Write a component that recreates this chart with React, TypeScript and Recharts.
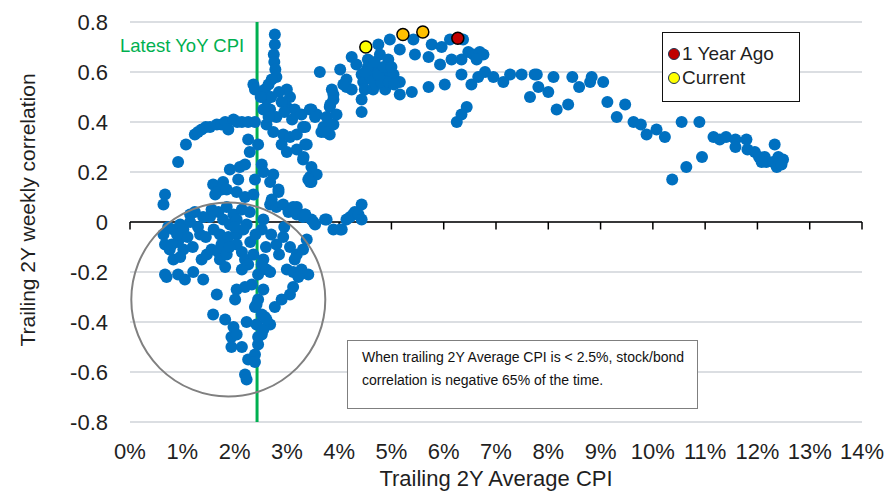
import {CartesianGrid, ReferenceDot, ReferenceLine, Scatter, ScatterChart, XAxis, YAxis} from 'recharts';

type Pt = [number, number];

// trailing 2Y avg CPI (%) vs trailing 2Y weekly stock/bond correlation
const lowCluster: Pt[] = [
  [0.67, 0.11], [0.64, 0.07], [1.59, 0.15], [1.75, 0.13], [1.63, 0.11], [2.04, 0.12], [2.2, 0.1], [2.36, 0.11],
  [2.68, 0.16], [2.84, 0.13], [3.44, 0.16], [1.24, 0.04], [1.15, 0.03], [1.56, 0.05], [1.69, 0.04], [1.85, 0.06],
  [1.98, 0.03], [2.14, 0.05], [2.29, 0.04], [1.53, 0.02], [1.78, 0.01], [1.91, -0.01], [2.04, 0.01], [2.23, -0.01],
  [2.52, -0.03], [2.55, 0.01], [2.68, 0.07], [2.8, 0.06], [2.93, 0.07], [3.03, 0.04], [3.19, 0.06], [3.25, 0.03],
  [3.35, 0.03], [3.47, 0.01], [3.54, -0.01], [3.73, 0.01], [0.73, -0.02], [0.64, -0.05], [0.83, -0.03], [0.96, -0.01],
  [1.02, -0.03], [0.67, -0.09], [0.76, -0.11], [0.92, -0.08], [1.02, -0.11], [0.83, -0.15], [0.96, -0.14], [1.34, -0.05],
  [1.37, -0.15], [1.47, -0.13], [1.56, -0.11], [1.69, -0.12], [1.72, -0.15], [1.85, -0.13], [1.82, -0.18], [1.72, -0.05],
  [1.88, -0.06], [2.04, -0.05], [2.17, -0.03], [2.04, -0.09], [2.14, -0.12], [2.2, -0.15], [2.26, -0.17], [2.14, -0.19],
  [2.36, -0.13], [2.55, -0.15], [2.52, -0.17], [2.61, -0.19], [2.68, -0.2], [2.8, -0.09], [2.93, -0.06], [3.06, -0.1],
  [3.19, -0.13], [3.31, -0.11], [3.38, -0.07], [3.15, -0.15], [3.0, -0.19], [3.12, -0.2], [3.28, -0.19], [3.41, -0.21],
  [3.22, -0.22], [0.67, -0.21], [0.7, -0.22], [0.92, -0.21], [1.05, -0.23], [1.21, -0.2], [1.4, -0.23], [2.04, -0.27],
  [2.2, -0.26], [2.33, -0.25], [1.66, -0.29], [2.01, -0.31], [3.12, -0.26], [3.06, -0.29], [2.9, -0.31], [2.77, -0.34],
  [2.45, -0.31], [2.39, -0.34], [1.59, -0.37], [1.82, -0.39], [1.98, -0.42], [2.23, -0.4], [2.42, -0.41], [2.58, -0.38],
  [2.68, -0.41], [1.94, -0.46], [2.04, -0.45], [2.52, -0.45], [2.45, -0.49], [1.94, -0.5], [2.14, -0.5], [2.26, -0.55],
  [2.39, -0.53], [2.2, -0.61], [2.23, -0.63], [2.55, -0.43], [2.45, -0.21], [2.55, -0.27], [2.42, -0.33], [2.52, -0.37],
  [2.61, -0.39], [2.45, -0.46], [2.39, -0.56], [1.1, -0.06], [1.2, -0.1], [1.3, -0.02], [1.45, -0.06], [1.6, -0.03],
  [1.75, -0.09], [1.9, -0.1], [2.0, -0.02], [2.3, -0.08], [2.4, -0.05], [0.9, -0.05], [0.8, -0.09], [1.15, 0.0],
  [1.4, 0.02], [2.6, -0.1], [2.7, -0.05], [2.85, -0.13], [2.95, -0.02],
];

const upperArc: Pt[] = [
  [0.92, 0.24], [1.07, 0.31], [1.24, 0.35], [1.3, 0.36], [1.37, 0.37], [1.45, 0.38], [1.53, 0.38], [1.66, 0.39],
  [1.75, 0.39], [1.82, 0.4], [1.98, 0.41], [2.05, 0.4], [2.14, 0.4], [2.26, 0.4], [2.39, 0.4], [1.88, 0.37],
  [2.26, 0.33], [2.29, 0.28], [2.45, 0.31], [1.91, 0.21], [2.1, 0.22], [2.2, 0.23], [2.07, 0.17], [1.78, 0.16],
  [1.66, 0.12], [1.85, 0.13], [2.39, 0.17], [2.52, 0.23], [2.55, 0.2], [2.74, 0.19], [2.84, 0.12], [2.71, 0.09],
  [3.12, 0.06], [3.19, 0.03], [3.31, 0.02],
];

const column: Pt[] = [
  [2.77, 0.75], [2.77, 0.71], [2.75, 0.67], [2.76, 0.64], [2.78, 0.61], [2.8, 0.58], [2.71, 0.57], [2.36, 0.55],
  [2.39, 0.53], [2.58, 0.53], [2.61, 0.49], [2.68, 0.45], [2.61, 0.39], [2.8, 0.42], [3.0, 0.53], [3.06, 0.5],
  [3.0, 0.46], [3.15, 0.45], [3.28, 0.43], [2.74, 0.36], [2.93, 0.35], [3.06, 0.34], [3.19, 0.35], [3.31, 0.38],
  [2.9, 0.31], [3.0, 0.28], [3.19, 0.29], [3.35, 0.31], [3.31, 0.25], [3.47, 0.22], [3.44, 0.18], [3.57, 0.19],
  [3.47, 0.16], [2.65, 0.55], [2.85, 0.52], [2.9, 0.48], [2.7, 0.5], [2.95, 0.44], [3.1, 0.41], [2.55, 0.45],
  [2.5, 0.5], [2.65, 0.42],
];

const rise: Pt[] = [
  [3.47, 0.45], [3.57, 0.43], [3.76, 0.42], [3.89, 0.49], [3.82, 0.46], [3.95, 0.43], [3.7, 0.38], [3.82, 0.35],
  [3.66, 0.36], [3.89, 0.39], [3.63, 0.6], [4.02, 0.61], [4.24, 0.66], [4.33, 0.63], [4.14, 0.57], [4.24, 0.53],
  [4.14, 0.54], [3.89, 0.51], [3.83, 0.47], [3.86, 0.39], [3.73, 0.36], [3.44, 0.45], [3.54, 0.42], [3.35, 0.38],
  [3.38, 0.31], [3.32, 0.26], [3.41, 0.17], [4.08, 0.55], [3.86, 0.53],
];

const peak: Pt[] = [
  [4.43, 0.59], [4.46, 0.56], [4.59, 0.6], [4.72, 0.61], [4.49, 0.53], [4.65, 0.53], [4.85, 0.58], [4.91, 0.61],
  [5.04, 0.59], [4.88, 0.53], [5.16, 0.56], [5.16, 0.51], [5.39, 0.52], [5.71, 0.54], [6.02, 0.55], [4.43, 0.49],
  [4.43, 0.44], [4.75, 0.71], [4.97, 0.73], [4.78, 0.67], [4.94, 0.65], [5.16, 0.69], [5.42, 0.73], [5.45, 0.67],
  [5.77, 0.71], [5.71, 0.66], [5.96, 0.7], [5.93, 0.63], [6.15, 0.65], [6.12, 0.73], [6.37, 0.73], [6.34, 0.65],
  [6.47, 0.68], [6.57, 0.67], [6.69, 0.68], [6.76, 0.67], [6.63, 0.65], [6.34, 0.59], [6.53, 0.55], [6.66, 0.58],
  [6.79, 0.6], [6.95, 0.58], [7.14, 0.56], [7.27, 0.59], [6.25, 0.4], [6.34, 0.43], [6.44, 0.46], [4.55, 0.65],
  [4.62, 0.57], [4.7, 0.55], [4.8, 0.56], [4.55, 0.62], [4.68, 0.64], [4.6, 0.58], [4.75, 0.59], [4.95, 0.56],
  [5.05, 0.55], [4.5, 0.6], [4.85, 0.62], [5.0, 0.62],
];

const tail: Pt[] = [
  [7.49, 0.59], [7.74, 0.59], [7.78, 0.59], [7.81, 0.54], [7.65, 0.5], [8.0, 0.52], [8.1, 0.58], [8.16, 0.45],
  [8.38, 0.47], [8.46, 0.58], [8.59, 0.54], [8.8, 0.56], [8.83, 0.58], [9.05, 0.56], [9.13, 0.48], [9.31, 0.42],
  [9.47, 0.47], [9.63, 0.4], [9.77, 0.39], [9.88, 0.35], [10.07, 0.37], [10.23, 0.34], [10.37, 0.17], [10.55, 0.4],
  [10.64, 0.22], [10.89, 0.4], [10.94, 0.26], [11.16, 0.34], [11.28, 0.33], [11.4, 0.34], [11.58, 0.33], [11.58, 0.3],
  [11.79, 0.33], [11.81, 0.29], [11.95, 0.28], [12.03, 0.26], [12.14, 0.26], [12.33, 0.31], [12.17, 0.24], [12.3, 0.24],
  [12.4, 0.26], [12.49, 0.25], [12.37, 0.22], [12.46, 0.23], [12.08, 0.24],
];

const zeroBand: Pt[] = [
  [3.35, 0.03], [3.51, 0.0], [3.76, 0.01], [3.89, -0.03], [4.02, -0.03], [4.05, -0.03], [4.14, 0.01], [4.21, 0.02],
  [4.27, 0.03], [4.3, 0.04], [4.37, 0.03], [4.43, 0.07], [4.43, 0.01],
];

const currentPt: Pt[] = [[4.51, 0.7]];
const recentPts: Pt[] = [[5.22, 0.75], [5.6, 0.76]];
const yearAgoPt: Pt[] = [[6.27, 0.735]];

const xTicks = [0, 1, 2, 3, 4, 5, 6, 7, 8, 9, 10, 11, 12, 13, 14];
const yTicks = [-0.8, -0.6, -0.4, -0.2, 0, 0.2, 0.4, 0.6, 0.8];
const latestYoyCpi = 2.43;
const lowInflationZone = {cpi: 1.88, corr: -0.31};

const toRows = (pts: Pt[]) => pts.map(([cpi, corr]) => ({cpi, corr}));
const blueRows = toRows([...lowCluster, ...upperArc, ...column, ...rise, ...peak, ...tail, ...zeroBand]);

const FONT = '"Liberation Sans", Arial, sans-serif';
const BLUE = '#0070C0';

const dot = (fill: string, stroke?: string) => (p: any) => (
  <circle cx={p.cx} cy={p.cy} r={6} fill={fill} stroke={stroke ?? 'none'} strokeWidth={stroke ? 1.5 : 0} />
);

export default function App() {
  const tick = {fill: '#1f1f1f', fontSize: 22, fontFamily: FONT};
  return (
    <div style={{position: 'relative', width: 888, height: 491, fontFamily: FONT, background: '#fff'}}>
      <style>{'body{margin:0}'}</style>
      <ScatterChart width={888} height={491} margin={{top: 22, right: 26, bottom: 0, left: 0}}>
        <CartesianGrid vertical={false} stroke="#cfd3d9" strokeWidth={1.5} />
        <XAxis
          type="number"
          dataKey="cpi"
          domain={[0, 14]}
          ticks={xTicks}
          interval={0}
          tickFormatter={(v) => `${v}%`}
          axisLine={false}
          tickLine={false}
          tickSize={0}
          tickMargin={21}
          height={69}
          tick={tick}
        />
        <YAxis
          type="number"
          dataKey="corr"
          domain={[-0.8, 0.8]}
          ticks={yTicks}
          interval={0}
          tickFormatter={(v) => (v === 0 ? '0' : Number(v).toFixed(1))}
          axisLine={false}
          tickLine={false}
          tickSize={0}
          tickMargin={22}
          width={130}
          tick={tick}
        />
        <ReferenceLine y={0} stroke="#000" strokeWidth={1.5} />
        {xTicks.map((t) => (
          <ReferenceLine key={`t${t}`} segment={[{x: t, y: 0}, {x: t, y: -0.03}]} stroke="#000" strokeWidth={1.5} />
        ))}
        <Scatter data={toRows(currentPt)} shape={dot('#FFFF00', '#000')} isAnimationActive={false} />
        <Scatter data={blueRows} shape={dot(BLUE)} isAnimationActive={false} />
        <Scatter data={toRows(recentPts)} shape={dot('#FFC000', '#000')} isAnimationActive={false} />
        <Scatter data={toRows(yearAgoPt)} shape={dot('#C00000', '#000')} isAnimationActive={false} />
        <ReferenceLine x={latestYoyCpi} stroke="#00B050" strokeWidth={3} />
        <ReferenceDot
          x={lowInflationZone.cpi}
          y={lowInflationZone.corr}
          r={97}
          fill="none"
          stroke="#808080"
          strokeWidth={2}
        />
      </ScatterChart>

      <div style={{position: 'absolute', left: 120, top: 35, fontSize: 18.5, color: '#00B050', whiteSpace: 'nowrap'}}>
        Latest YoY CPI
      </div>

      <div
        style={{
          position: 'absolute',
          left: 28,
          top: 210,
          transform: 'translate(-50%, -50%) rotate(-90deg)',
          fontSize: 21,
          color: '#1f1f1f',
          whiteSpace: 'nowrap',
        }}
      >
        Trailing 2Y weekly correlation
      </div>

      <div
        style={{
          position: 'absolute',
          left: 496,
          top: 468,
          transform: 'translateX(-50%)',
          fontSize: 22,
          lineHeight: '22px',
          color: '#1f1f1f',
          whiteSpace: 'nowrap',
        }}
      >
        Trailing 2Y Average CPI
      </div>

      <div
        style={{
          position: 'absolute',
          left: 662,
          top: 32,
          width: 136,
          height: 68,
          border: '1.5px solid #111',
          background: '#fff',
          fontSize: 19,
          color: '#1f1f1f',
        }}
      >
        <div style={{display: 'flex', alignItems: 'center', height: 24, marginTop: 9}}>
          <span style={{width: 10, height: 10, borderRadius: 6, background: '#C00000', border: '1.5px solid #1f3550', marginLeft: 5}} />
          <span style={{marginLeft: 2}}>1 Year Ago</span>
        </div>
        <div style={{display: 'flex', alignItems: 'center', height: 24}}>
          <span style={{width: 10, height: 10, borderRadius: 6, background: '#FFFF00', border: '1.5px solid #1f3550', marginLeft: 5}} />
          <span style={{marginLeft: 2}}>Current</span>
        </div>
      </div>

      <div
        style={{
          position: 'absolute',
          left: 347,
          top: 340,
          width: 351,
          height: 69,
          border: '1.5px solid #7f7f7f',
          background: '#fff',
          fontSize: 14,
          lineHeight: '23px',
          color: '#111',
          padding: '5px 0 0 14px',
          boxSizing: 'border-box',
          whiteSpace: 'nowrap',
        }}
      >
        When trailing 2Y Average CPI is &lt; 2.5%, stock/bond
        <br />
        correlation is negative 65% of the time.
      </div>
    </div>
  );
}
